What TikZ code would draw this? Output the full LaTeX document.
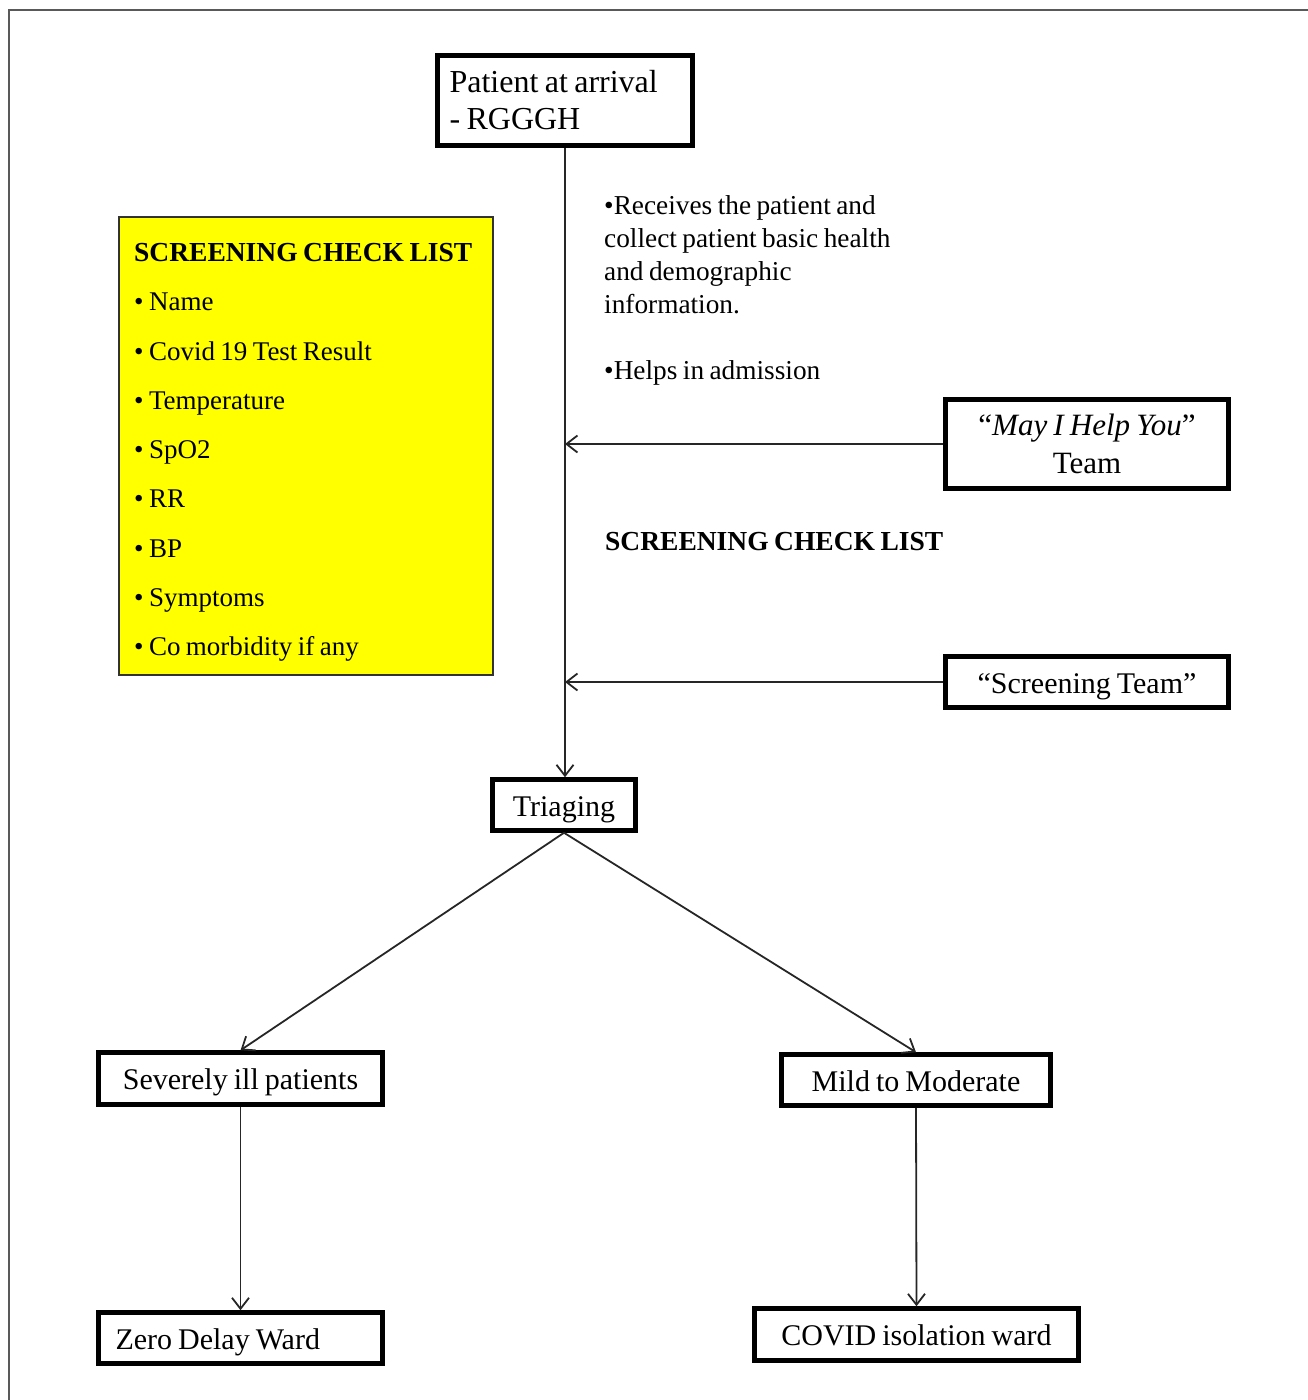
\documentclass[tikz,border=0pt]{standalone}
\usepackage{fontspec}
\setmainfont{Liberation Serif}[WordSpace=0.8]
\usetikzlibrary{arrows.meta}
\definecolor{chkyellow}{RGB}{255,255,0}
\begin{document}
\begin{tikzpicture}[x=1pt,y=-1pt,
  box/.style={draw, line width=4.5pt, inner sep=0pt, align=center,
    text height=27pt, text depth=5pt,
    font=\fontsize{30}{37}\selectfont},
  conn/.style={line width=1.8pt, draw=black!85},
  arr/.style={conn, -{Straight Barb[length=11pt,width=17pt]}},
  txt/.style={inner sep=0pt, align=left}]
\useasboundingbox (0,0) rectangle (1308,1400);
\draw[line width=2pt, draw=black!65] (9,1400) -- (9,10) -- (1308,10);

% yellow checklist
\node[draw=black!80, line width=1.5pt, fill=chkyellow, minimum width=374pt, minimum height=458pt]
  (checkbox) at (306,446) {};
\node[txt, anchor=north west, font=\fontsize{27}{49.3}\selectfont] (checktext) at (134,243)
  {{\fontsize{27.5}{33}\selectfont\bfseries SCREENING CHECK LIST}\\
   \textbullet\ Name\\
   \textbullet\ Covid 19 Test Result\\
   \textbullet\ Temperature\\
   \textbullet\ SpO2\\
   \textbullet\ RR\\
   \textbullet\ BP\\
   \textbullet\ Symptoms\\
   \textbullet\ Co morbidity if any};

\node[draw, line width=4.5pt, minimum width=255pt, minimum height=90pt, text width=231pt, inner xsep=12pt,
  inner ysep=0pt, align=flush left, font=\fontsize{32}{37}\selectfont] (patient) at (565,100.5)
  {Patient at arrival\\- RGGGH};

\node[txt, anchor=north west, font=\fontsize{27.3}{33}\selectfont] (info) at (604,195)
  {\textbullet Receives the patient and\\
   collect patient basic health\\
   and demographic\\
   information.\\[33pt]
   \textbullet Helps in admission};

\node[draw, line width=4.5pt, inner sep=0pt, align=center, minimum width=283pt, minimum height=89pt,
  font=\fontsize{31}{38}\selectfont] (help) at (1087,444)
  {``\textit{May I Help You}''\\Team};

\node[txt, anchor=west, font=\fontsize{27.5}{33}\selectfont\bfseries] (sclabel) at (605,542)
  {SCREENING CHECK LIST};

\node[box, minimum width=283pt, minimum height=51pt] (screen) at (1087,682)
  {``Screening Team''};

\node[box, minimum width=143pt, minimum height=51pt] (triage) at (564,805)
  {Triaging};

\node[box, minimum width=284pt, minimum height=52pt] (severe) at (240.5,1078.5)
  {Severely ill patients};

\node[box, minimum width=269pt, minimum height=51pt] (mild) at (916,1080)
  {Mild to Moderate};

\node[box, minimum width=284pt, minimum height=51pt, text width=250pt, inner xsep=17pt,
  align=flush left] (zero) at (240.5,1338)
  {Zero Delay Ward};

\node[box, minimum width=324pt, minimum height=52pt] (covid) at (916.5,1334.5)
  {COVID isolation ward};

% connectors
\draw[arr] (patient.south) -- (patient.south |- triage.north);
\draw[arr] (help.west) -- (help.west -| patient.south);
\draw[arr] (screen.west) -- (screen.west -| patient.south);
\draw[arr] (triage.south) -- (severe.north);
\draw[arr] (triage.south) -- (mild.north);
\draw[arr] (severe.south) -- (zero.north);
\draw[arr] (mild.south) -- (covid.north);
\end{tikzpicture}
\end{document}
